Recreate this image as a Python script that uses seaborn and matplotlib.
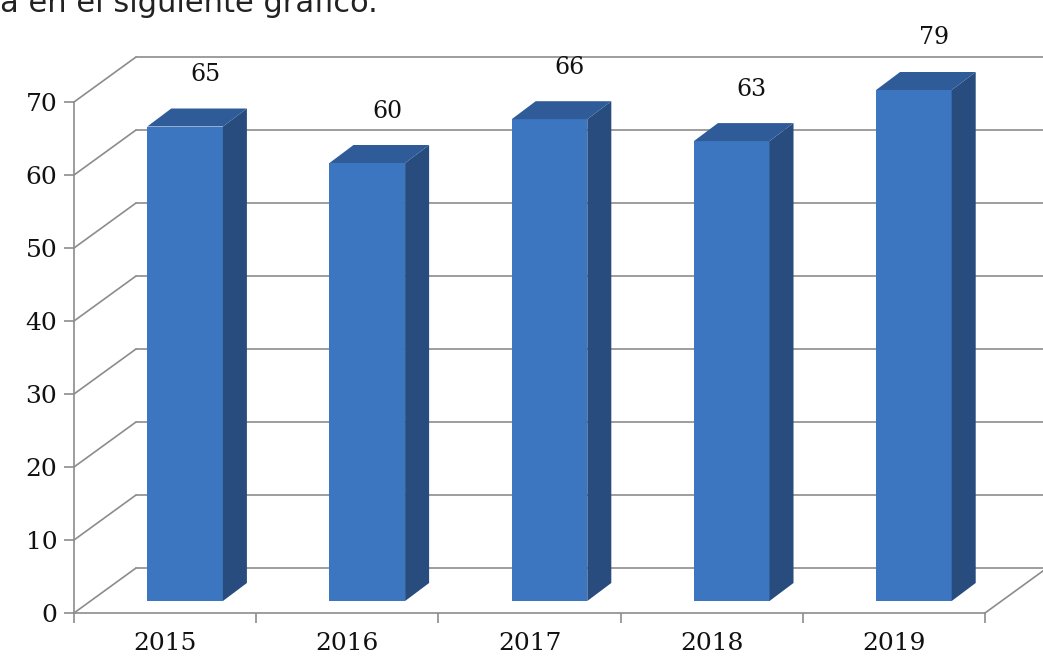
import numpy as np
import pandas as pd
import matplotlib
matplotlib.use("Agg")
import matplotlib.pyplot as plt
import seaborn as sns
from matplotlib.patches import Polygon
from matplotlib.lines import Line2D
from matplotlib.transforms import ScaledTranslation, IdentityTransform

# ---- data ----
years = ["2015", "2016", "2017", "2018", "2019"]
values = [65, 60, 66, 63, 79]
y_ticks = [0, 10, 20, 30, 40, 50, 60, 70]
y_max = 70
caption = "a en el siguiente gráfico."

# ---- style ----
FRONT = "#3C76C0"
SIDE = "#284C7D"
TOP = "#2F5C98"
GRID = "#8C8C8C"
W, H, DPI = 1043, 657, 100

sns.set_theme(style="white")
plt.rcParams['font.family'] = ['DejaVu Serif']

fig = plt.figure(figsize=(W / DPI, H / DPI), dpi=DPI)
fig.patch.set_facecolor("white")
ax = fig.add_axes([74 / W, 44 / H, 911 / W, 511 / H])
ax.set_facecolor("none")

df = pd.DataFrame({"year": years, "value": np.minimum(values, y_max)})
sns.barplot(data=df, x="year", y="value", color=FRONT, saturation=1,
            width=0.415, ax=ax, edgecolor="none", linewidth=0, zorder=3)
ax.set_xlim(-0.5, len(years) - 0.5)
ax.set_ylim(0, y_max)
ax.set_autoscale_on(False)
ax.set_xlabel("")
ax.set_ylabel("")

# 3D offsets in pixels
WX, WY = 62, 45      # back wall depth
FX, FY = 20, 12      # bar front-face offset
DX, DY = 24, 18      # bar depth

fig.canvas.draw()
tD = ax.transData
ident = IdentityTransform()


def add_line(xs, ys):
    ln = Line2D(xs, ys, color=GRID, lw=1.2, transform=ident, zorder=1)
    ln.set_clip_on(False)
    ax.add_artist(ln)


# walls / gridlines
x_left_px = tD.transform((-0.5, 0))[0]
x_right_px = tD.transform((len(years) - 0.5, 0))[0]
for k in y_ticks:
    py = tD.transform((-0.5, k))[1]
    add_line([x_left_px, x_left_px + WX], [py, py + WY])
    add_line([x_left_px + WX, x_right_px + WX], [py + WY, py + WY])
py0 = tD.transform((0, 0))[1]
add_line([x_right_px, x_right_px + WX], [py0, py0 + WY])

# bars: shift front face and add side/top faces
shift = ScaledTranslation(FX / DPI, FY / DPI, fig.dpi_scale_trans)
for p, v in zip(ax.patches, values):
    x0 = p.get_x()
    x1 = x0 + p.get_width()
    h = p.get_height()
    p.set_transform(tD + shift)
    p.set_clip_on(False)
    (ax0, ay0) = tD.transform((x0, 0)) + np.array([FX, FY])
    (ax1, ay1) = tD.transform((x1, h)) + np.array([FX, FY])
    side = Polygon([(ax1, ay0), (ax1 + DX, ay0 + DY), (ax1 + DX, ay1 + DY), (ax1, ay1)],
                   closed=True, facecolor=SIDE, edgecolor="none",
                   transform=ident, zorder=4)
    top = Polygon([(ax0, ay1), (ax0 + DX, ay1 + DY), (ax1 + DX, ay1 + DY), (ax1, ay1)],
                  closed=True, facecolor=TOP, edgecolor="none",
                  transform=ident, zorder=4)
    for poly in (side, top):
        poly.set_clip_on(False)
        ax.add_artist(poly)
    cx = x0 + p.get_width() / 2
    ax.annotate(str(v), xy=(cx, h), xycoords="data",
                xytext=(FX + 20, FY + 52), textcoords="offset pixels",
                ha="center", va="center", fontsize=17, color="#111111",
                annotation_clip=False)

# axes styling
for s in ["top", "right"]:
    ax.spines[s].set_visible(False)
for s in ["left", "bottom"]:
    ax.spines[s].set_color(GRID)
    ax.spines[s].set_linewidth(1.2)
ax.set_yticks(y_ticks)
ax.tick_params(axis="y", length=7, width=1.2, color=GRID, labelsize=18,
               pad=5, direction="out", left=True, labelcolor="#111111")
ax.set_xticks(range(len(years)), years)
ax.tick_params(axis="x", which="major", length=0, pad=14, labelsize=18,
               labelcolor="#111111")
ax.set_xticks(np.arange(-0.5, len(years), 1.0), minor=True)
ax.tick_params(axis="x", which="minor", length=7, width=1.2, color=GRID,
               bottom=True, direction="out")

fig.text(0.0, 1 - 12.5 / H, caption, ha="left", va="baseline",
         fontsize=22, color="#222222", family=["DejaVu Sans"])

fig.savefig("out.png", dpi=DPI)
